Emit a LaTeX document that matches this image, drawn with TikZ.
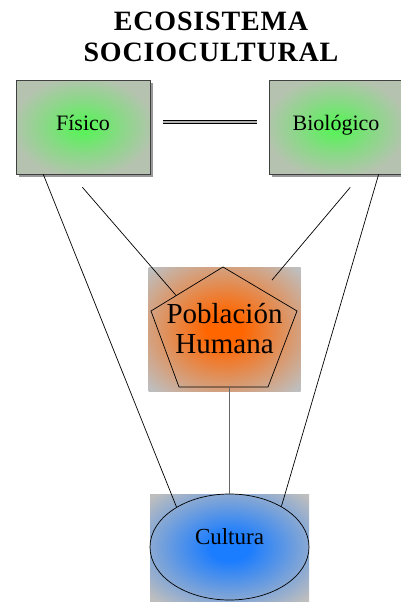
\documentclass[tikz,border=0pt]{standalone}
\usepackage{fontspec}
\setmainfont{Liberation Serif}
\usetikzlibrary{shapes.geometric, shadows, calc}

\definecolor{cajagris}{HTML}{B6C2B0}
\definecolor{fondogris}{HTML}{BEBEBE}
\definecolor{verde}{HTML}{5CF05C}
\definecolor{naranja}{HTML}{FF6600}
\definecolor{azul}{HTML}{1A7CFF}

\pgfdeclareradialshading{brilloverde}{\pgfpoint{0bp}{0bp}}{color(0bp)=(verde); color(3bp)=(verde); color(14bp)=(verde!50!cajagris); color(27bp)=(cajagris); color(50bp)=(cajagris)}
\pgfdeclareradialshading{brillonaranja}{\pgfpoint{0bp}{0bp}}{color(0bp)=(naranja); color(6bp)=(naranja); color(34bp)=(fondogris); color(50bp)=(fondogris)}
\pgfdeclareradialshading{brilloazul}{\pgfpoint{0bp}{0bp}}{color(0bp)=(azul); color(6bp)=(azul); color(34bp)=(fondogris); color(50bp)=(fondogris)}

\tikzset{
  caja/.style={rectangle, draw=black!75, line width=0.7pt, minimum width=134pt, minimum height=94pt, inner sep=0pt,
    font=\fontsize{22}{26}\selectfont, text height=12pt, text depth=6pt,
    drop shadow={shadow xshift=3pt, shadow yshift=-3pt, fill=black!40, opacity=1}},
  fondo/.style={rectangle, inner sep=0pt},
  enlace/.style={black, line width=0.7pt}
}

\begin{document}
\begin{tikzpicture}[x=1pt, y=-1pt]
    \useasboundingbox (0,0) rectangle (400,602);

    % Define nodes
    \node (titulo) [align=center, font=\bfseries\fontsize{28}{31}\selectfont\addfontfeatures{LetterSpace=3}] at (211,37) {ECOSISTEMA\\SOCIOCULTURAL};
    \node (fisico) [caja, shading=brilloverde] at (83,127) {Físico};
    \node (bio) [caja, shading=brilloverde] at (336,127) {Biológico};
    \node (pob) [fondo, shading=brillonaranja, minimum width=152pt, minimum height=124pt, align=center,
        font=\fontsize{29}{30}\selectfont] at (224.5,329) {Población\\Humana};
    \node (cultfondo) [fondo, shading=brilloazul, minimum width=159pt, minimum height=107pt] at (229.5,547.5) {};
    \node (cult) [ellipse, draw, line width=0.7pt, minimum width=159pt, minimum height=106pt, inner sep=0pt,
        font=\fontsize{23}{26}\selectfont, text height=10pt, text depth=16pt] at (229.5,547) {Cultura};

    % Pentagon
    \coordinate (pt) at (223,267);
    \coordinate (pl) at (151,311);
    \coordinate (pr) at (297,311);
    \coordinate (pbl) at (179,387);
    \coordinate (pbr) at (268,387);
    \draw[enlace] (pt) -- (pr) -- (pbr) -- (pbl) -- (pl) -- cycle;

    % Draw edges
    \draw[line width=0.9pt, double=black!30, double distance=1.6pt, shorten <=13pt, shorten >=12pt]
        ([yshift=5pt]fisico.east) -- ([yshift=5pt]bio.west);
    \draw[enlace] (fisico.230) -- (cult.143);
    \draw[enlace] (bio.312) -- (cult.38);
    \draw[enlace, shorten <=17pt] (fisico.256) -- ($(pt)!0.65!(pl)$);
    \draw[enlace, shorten <=17pt, shorten >=14pt] (bio.298) -- ($(pt)!0.54!(pr)$);
    \draw[black!60, line width=1.8pt] (cult.north |- pbl) -- (cult.north);
\end{tikzpicture}
\end{document}
